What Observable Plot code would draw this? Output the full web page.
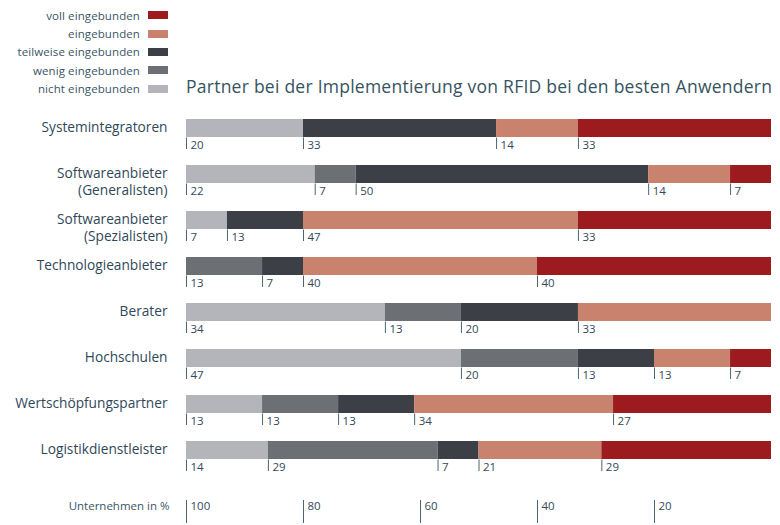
<!DOCTYPE html>
<html>
<head>
<meta charset="utf-8">
<script src="https://cdn.jsdelivr.net/npm/d3@7"></script>
<script src="https://cdn.jsdelivr.net/npm/@observablehq/plot@0.6"></script>
<style>
  html, body { margin: 0; padding: 0; background: #fff; }
  #wrap { position: relative; width: 780px; height: 525px; font-family: "Open Sans", sans-serif; }
  #title { position: absolute; left: 186px; top: 74px; font-size: 17.5px; color: #35535f; white-space: nowrap; letter-spacing: 0.25px; }
  #legend { position: absolute; left: 0; top: 6px; width: 168px; }
  .li { display: flex; justify-content: flex-end; align-items: center; height: 18.4px; font-size: 11.5px; color: #3a5566; letter-spacing: 0.1px; }
  .sw { display: inline-block; width: 20px; height: 8px; margin-left: 8px; }
</style>
</head>
<body>
<div id="wrap">
  <div id="legend"></div>
  <div id="title">Partner bei der Implementierung von RFID bei den besten Anwendern</div>
  <div id="chart"></div>
</div>
<script>
const categories = [
  "Systemintegratoren",
  "Softwareanbieter\n(Generalisten)",
  "Softwareanbieter\n(Spezialisten)",
  "Technologieanbieter",
  "Berater",
  "Hochschulen",
  "Wertschöpfungspartner",
  "Logistikdienstleister"
];
const series = ["nicht eingebunden", "wenig eingebunden", "teilweise eingebunden", "eingebunden", "voll eingebunden"];
const colors = ["#b3b5ba", "#6c6f74", "#3c3f45", "#c9826e", "#9b1b1f"];
const nicht     = [20, 22, 7, 0, 34, 47, 13, 14];
const wenig     = [0, 7, 0, 13, 13, 20, 13, 29];
const teilweise = [33, 50, 13, 7, 20, 13, 13, 7];
const eingeb    = [14, 14, 47, 40, 33, 13, 34, 21];
const voll      = [33, 7, 33, 40, 0, 7, 27, 29];
const axisTicks = [100, 80, 60, 40, 20];
const axisTitle = "Unternehmen in %";

const seriesValues = [nicht, wenig, teilweise, eingeb, voll];
const rows = [];
categories.forEach((c, i) => {
  let cum = 0;
  seriesValues.forEach((vals, s) => {
    const v = vals[i];
    rows.push({cat: c, series: series[s], value: v, start: 100 - cum, end: 100 - cum - v});
    cum += v;
  });
});
const segs = rows.filter(d => d.value > 0);

// legend (top to bottom: voll ... nicht)
const legend = document.getElementById("legend");
for (let s = series.length - 1; s >= 0; s--) {
  const row = document.createElement("div");
  row.className = "li";
  row.innerHTML = `<span>${series[s]}</span><span class="sw" style="background:${colors[s]}"></span>`;
  legend.appendChild(row);
}

const textColor = "#2f4858";
const plot = Plot.plot({
  width: 780,
  height: 525,
  marginLeft: 186,
  marginRight: 9,
  marginTop: 105,
  marginBottom: 25,
  style: {fontFamily: "Open Sans, sans-serif", background: "#fff"},
  x: {domain: [100, 0], axis: null},
  y: {domain: categories, axis: null, range: [105, 473], paddingInner: 0.6, paddingOuter: 0.3},
  color: {domain: series, range: colors},
  marks: [
    Plot.barX(segs, {y: "cat", x1: "start", x2: "end", fill: "series"}),
    Plot.tickX(segs, {y: "cat", x: "start", stroke: "#4a6577", strokeWidth: 1, dy: 12, insetTop: 6.5}),
    Plot.text(segs, {y: "cat", x: "start", text: d => String(d.value), dx: 4, dy: 16.5, textAnchor: "start", fill: "#33495a", fontSize: 11.5}),
    Plot.text(categories, {y: d => d, text: d => d, frameAnchor: "left", dx: -19, textAnchor: "end", lineAnchor: "top", dy: -8.5, lineHeight: 1.25, fontSize: 13.7, fill: textColor}),
    Plot.axisX({anchor: "bottom", ticks: axisTicks, tickSize: 23, tickFormat: () => "", stroke: "#4a6577", label: null}),
    Plot.text(axisTicks, {x: d => d, text: d => String(d), frameAnchor: "bottom", dx: 4, dy: 9, textAnchor: "start", fill: "#33495a", fontSize: 11.5}),
    Plot.text([axisTitle], {frameAnchor: "bottom-left", text: d => d, dx: -17, dy: 9, textAnchor: "end", fill: "#3a5566", fontSize: 11.5})
  ]
});
document.getElementById("chart").appendChild(plot);
</script>
</body>
</html>
